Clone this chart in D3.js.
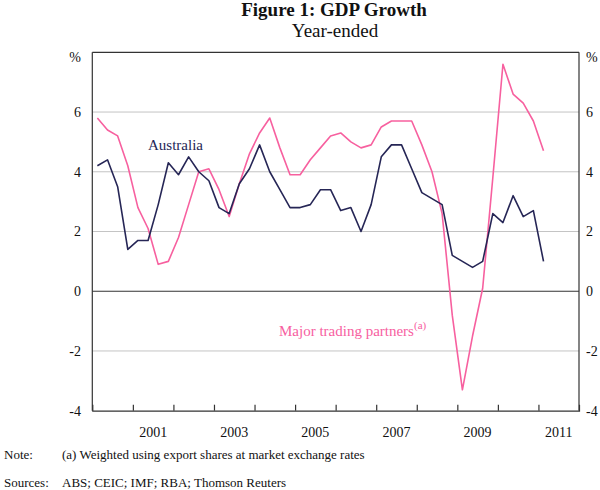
<!DOCTYPE html>
<html>
<head>
<meta charset="utf-8">
<script src="https://cdn.jsdelivr.net/npm/d3@7"></script>
<style>
  html, body { margin: 0; padding: 0; background: #fff; }
  svg text { font-family: "Liberation Serif", "Times New Roman", serif; }
</style>
</head>
<body>
<svg id="chart" width="600" height="490"></svg>
<script>
// Quarterly, year-ended GDP growth, Mar 2000 – Mar 2011
const startYear = 2000;
const australia = [4.2,4.4,3.5,1.4,1.7,1.7,2.9,4.3,3.9,4.5,4.0,3.7,2.8,2.6,3.6,4.1,4.9,4.0,3.4,2.8,2.8,2.9,3.4,3.4,2.7,2.8,2.0,2.9,4.5,4.9,4.9,4.1,3.3,3.1,2.9,1.2,1.0,0.8,1.0,2.6,2.3,3.2,2.5,2.7,1.0];
const partners  = [5.8,5.4,5.2,4.2,2.8,2.1,0.9,1.0,1.8,2.9,4.0,4.1,3.4,2.5,3.6,4.6,5.3,5.8,4.8,3.9,3.9,4.4,4.8,5.2,5.3,5.0,4.8,4.9,5.5,5.7,5.7,5.7,4.9,4.0,2.6,-0.8,-3.3,-1.5,0.1,3.8,7.6,6.6,6.3,5.7,4.7];
const yTicks = [-4,-2,0,2,4,6];
const xTickYears = [2001,2002,2003,2004,2005,2006,2007,2008,2009,2010,2011];
const xLabelYears = [2001,2003,2005,2007,2009,2011];

const svg = d3.select("#chart");
const L = 92.3, R = 579, T = 52.3, B = 410.7;
const x = d3.scaleLinear().domain([2000, 2012]).range([L, R]);
const y = d3.scaleLinear().domain([-4, 8]).range([B, T]);
const navy = "#262656", pink = "#f7609f", axisCol = "#333333";

// Title
svg.append("text").attr("x", 334).attr("y", 16).attr("text-anchor", "middle")
  .attr("font-size", 19).attr("font-weight", "bold").attr("fill", "#111").text("Figure 1: GDP Growth");
svg.append("text").attr("x", 335).attr("y", 37).attr("text-anchor", "middle")
  .attr("font-size", 19).attr("fill", "#111").text("Year-ended");

// Gridlines
svg.append("g").selectAll("line").data(yTicks.filter(d => d !== 0 && d !== -4)).join("line")
  .attr("x1", L).attr("x2", R).attr("y1", d => y(d)).attr("y2", d => y(d))
  .attr("stroke", "#c4c4c4").attr("stroke-width", 1);
// zero line
svg.append("line").attr("x1", L).attr("x2", R).attr("y1", y(0)).attr("y2", y(0))
  .attr("stroke", axisCol).attr("stroke-width", 1.2);

// Frame
svg.append("line").attr("x1", L).attr("x2", R).attr("y1", T).attr("y2", T).attr("stroke", axisCol).attr("stroke-width", 1.2);
svg.append("line").attr("x1", L).attr("x2", L).attr("y1", T).attr("y2", B).attr("stroke", axisCol).attr("stroke-width", 1.2);
svg.append("line").attr("x1", R).attr("x2", R).attr("y1", T).attr("y2", B).attr("stroke", axisCol).attr("stroke-width", 1.2);

// Bottom axis with inward ticks
const xAxis = d3.axisBottom(x).tickValues(xTickYears).tickSize(-6).tickFormat("");
const gx = svg.append("g").attr("transform", `translate(0,${B})`).call(xAxis);
gx.select(".domain").attr("stroke", axisCol).attr("stroke-width", 1.2);
gx.selectAll(".tick line").attr("stroke", axisCol).attr("stroke-width", 1.2);

svg.append("g").selectAll("text").data(xLabelYears).join("text")
  .attr("x", d => x(d + 0.5)).attr("y", 437).attr("text-anchor", "middle")
  .attr("font-size", 14).attr("fill", "#111").text(d => d);

// Y labels left and right
const yl = svg.append("g");
yl.selectAll("text.l").data(yTicks).join("text").attr("class", "l")
  .attr("x", 81).attr("y", d => y(d)).attr("dy", "0.35em").attr("text-anchor", "end")
  .attr("font-size", 14).attr("fill", "#111").text(d => d);
yl.selectAll("text.r").data(yTicks).join("text").attr("class", "r")
  .attr("x", 586).attr("y", d => y(d)).attr("dy", "0.35em").attr("text-anchor", "start")
  .attr("font-size", 14).attr("fill", "#111").text(d => d);
svg.append("text").attr("x", 81).attr("y", 62).attr("text-anchor", "end").attr("font-size", 14).attr("fill", "#111").text("%");
svg.append("text").attr("x", 586).attr("y", 62).attr("text-anchor", "start").attr("font-size", 14).attr("fill", "#111").text("%");

// Lines
const qx = i => x(startYear + (i + 0.5) / 4);
const line = d3.line().x((d, i) => qx(i)).y(d => y(d));
svg.append("path").datum(partners).attr("d", line).attr("fill", "none")
  .attr("stroke", pink).attr("stroke-width", 1.6).attr("stroke-linejoin", "round");
svg.append("path").datum(australia).attr("d", line).attr("fill", "none")
  .attr("stroke", navy).attr("stroke-width", 1.6).attr("stroke-linejoin", "round");

// Series labels
svg.append("text").attr("x", 148).attr("y", 150).attr("font-size", 15).attr("fill", navy).text("Australia");
const mt = svg.append("text").attr("x", 279).attr("y", 336).attr("font-size", 15).attr("fill", pink);
mt.append("tspan").text("Major trading partners");
mt.append("tspan").attr("font-size", 11).attr("dy", -7).text("(a)");

// Notes
svg.append("text").attr("x", 4).attr("y", 459).attr("font-size", 13).attr("fill", "#111").text("Note:");
svg.append("text").attr("x", 62).attr("y", 459).attr("font-size", 13).attr("fill", "#111").text("(a) Weighted using export shares at market exchange rates");
svg.append("text").attr("x", 4).attr("y", 487).attr("font-size", 13).attr("fill", "#111").text("Sources:");
svg.append("text").attr("x", 62).attr("y", 487).attr("font-size", 13).attr("fill", "#111").text("ABS; CEIC; IMF; RBA; Thomson Reuters");
</script>
</body>
</html>
